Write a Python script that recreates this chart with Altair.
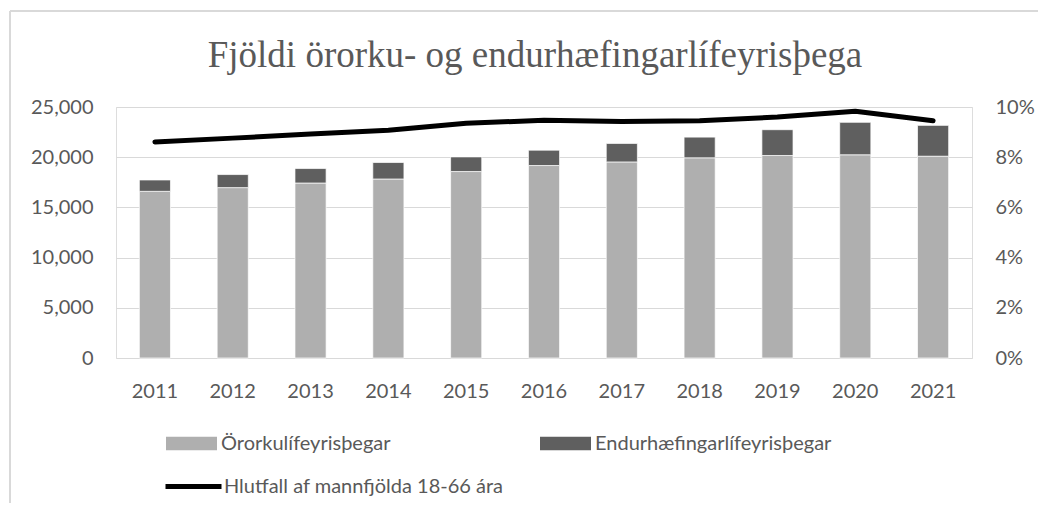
import altair as alt
import pandas as pd
import json

years = ["2011", "2012", "2013", "2014", "2015", "2016", "2017", "2018", "2019", "2020", "2021"]
ororku = [16600, 16970, 17430, 17830, 18570, 19170, 19530, 19940, 20170, 20240, 20100]
endurhaef = [1130, 1300, 1440, 1640, 1460, 1530, 1840, 2060, 2570, 3230, 3070]
hlutfall = [0.0861, 0.0876, 0.0892, 0.0907, 0.0935, 0.0947, 0.0942, 0.0945, 0.0960, 0.0983, 0.0945]

left_ticks = [0, 5000, 10000, 15000, 20000, 25000]
right_ticks = [0, 0.02, 0.04, 0.06, 0.08, 0.10]

s_oror = "Örorkulífeyrisþegar"
s_end = "Endurhæfingarlífeyrisþegar"
s_hlut = "Hlutfall af mannfjölda 18-66 ára"
title = "Fjöldi örorku- og endurhæfingarlífeyrisþega"

df = pd.DataFrame({"ar": years, "oror": ororku, "endur": endurhaef, "hlut": hlutfall})

TXT = "#595959"
FONT = "Lato"
LIGHT = "#afafaf"
DARK = "#5f5f5f"
GRID = "#d9d9d9"
RECT = "M-1,-0.26H1V0.26H-1Z"

xenc = alt.X("ar:N", sort=years, title=None,
             scale=alt.Scale(paddingInner=0.6, paddingOuter=0.3),
             axis=alt.Axis(labelAngle=0, ticks=False, tickSize=0, domain=False,
                           labelPadding=23, labelFontSize=20, labelFont=FONT,
                           labelColor=TXT))

base = alt.Chart(df)


def leg(x, y, sym, size, sw, off):
    return alt.Legend(title=None, orient="none", legendX=x, legendY=y,
                      symbolType=sym, symbolSize=size, symbolStrokeWidth=sw,
                      labelOffset=off, padding=0, labelFont=FONT, labelFontSize=20,
                      labelColor=TXT, labelLimit=0)


bar_a = base.transform_calculate(ser=json.dumps(s_oror)).mark_bar(
    stroke="white", strokeWidth=0.7).encode(
    x=xenc,
    y=alt.Y("oror:Q", title=None,
            scale=alt.Scale(domain=[0, 25000]),
            axis=alt.Axis(values=left_ticks, format=",.0f", grid=True, gridColor=GRID,
                          gridWidth=1.2, domain=False, ticks=False, tickSize=0,
                          labelPadding=23, labelFontSize=20, labelFont=FONT,
                          labelColor=TXT)),
    color=alt.Color("ser:N", scale=alt.Scale(domain=[s_oror], range=[LIGHT]),
                    legend=leg(50, 311, RECT, 2601, 0, 4)),
)

bar_b = base.transform_calculate(total="datum.oror + datum.endur",
                                 ser=json.dumps(s_end)).mark_bar(
    stroke="white", strokeWidth=0.7).encode(
    x=xenc,
    y=alt.Y("total:Q", scale=alt.Scale(domain=[0, 25000]), axis=None),
    y2="oror:Q",
    color=alt.Color("ser:N", scale=alt.Scale(domain=[s_end], range=[DARK]),
                    legend=leg(424, 311, RECT, 2601, 0, 4)),
)

line = base.transform_calculate(ser=json.dumps(s_hlut)).mark_line(
    strokeWidth=5, strokeCap="round", strokeJoin="round").encode(
    x=xenc,
    y=alt.Y("hlut:Q", title=None,
            scale=alt.Scale(domain=[0, 0.10]),
            axis=alt.Axis(orient="right", values=right_ticks, format=".0%", grid=False,
                          domain=False, ticks=False, tickSize=0, labelPadding=23,
                          labelFontSize=20, labelFont=FONT, labelColor=TXT)),
    stroke=alt.Stroke("ser:N", scale=alt.Scale(domain=[s_hlut], range=["#000000"]),
                      legend=leg(47, 349, "stroke", 3136, 5, 0)),
)

frame_df = pd.DataFrame({"k": [0]})
frame_top = alt.Chart(frame_df).mark_rule(color=GRID, strokeWidth=2).encode(
    x=alt.value(-106), x2=alt.value(940), y=alt.value(-96))
frame_left = alt.Chart(frame_df).mark_rule(color=GRID, strokeWidth=2).encode(
    x=alt.value(-106), y=alt.value(-96), y2=alt.value(420))

title_df = pd.DataFrame({"t": [title]})
title_mark = alt.Chart(title_df).mark_text(
    font="Liberation Serif", fontSize=37, color=TXT, align="center",
    baseline="alphabetic").encode(
    text="t:N", x=alt.value(419), y=alt.value(-40))

chart = alt.layer(frame_top, frame_left, title_mark, bar_a, bar_b, line).resolve_scale(
    y="independent", color="independent", stroke="independent"
).properties(
    width=856, height=251,
    autosize=alt.AutoSizeParams(type="none"),
    padding={"left": 108, "top": 99, "right": 66, "bottom": 145},
).configure_view(stroke=None).configure(background="white")

chart.save("out.html", embed_options={"renderer": "svg", "actions": False})
